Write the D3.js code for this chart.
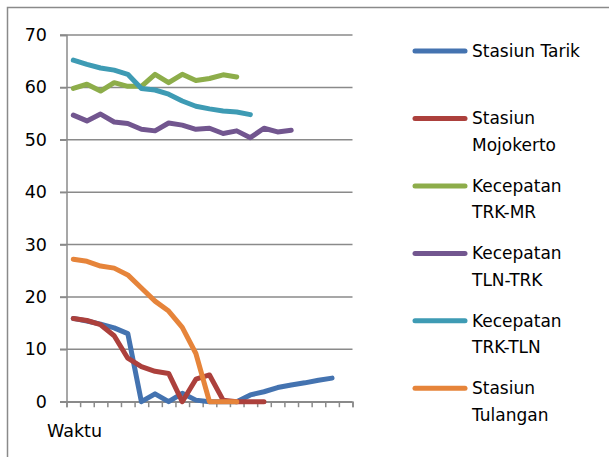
<!DOCTYPE html>
<html>
<head>
<meta charset="utf-8">
<script src="https://cdn.jsdelivr.net/npm/d3@7"></script>
<style>
  html, body { margin: 0; padding: 0; background: #fff; }
  svg { display: block; }
  text { font-family: "Comic Sans MS", "DejaVu Sans", sans-serif; fill: #000; }
</style>
</head>
<body>
<svg id="chart" width="609" height="457"></svg>
<script>
// ---- data ----
const categories = d3.range(1, 22); // 21 time steps on "Waktu"
const yTicks = [0, 10, 20, 30, 40, 50, 60, 70];
const xAxisTitle = "Waktu";

const stasiunTarik     = [15.9, 15.4, 14.8, 14.1, 13.0, 0, 1.5, 0, 1.6, 0.3, 0, 0, 0, 1.3, 1.9, 2.7, 3.2, 3.6, 4.1, 4.5];
const stasiunMojokerto = [15.9, 15.5, 14.7, 12.6, 8.3, 6.7, 5.8, 5.4, 0, 4.3, 5.1, 0.3, 0, 0, 0];
const kecTRKMR         = [59.8, 60.6, 59.3, 60.9, 60.2, 60.2, 62.5, 60.9, 62.5, 61.3, 61.7, 62.4, 62.0];
const kecTLNTRK        = [54.7, 53.6, 54.9, 53.4, 53.1, 52.0, 51.7, 53.2, 52.8, 52.0, 52.2, 51.2, 51.7, 50.4, 52.2, 51.5, 51.8];
const kecTRKTLN        = [65.2, 64.4, 63.7, 63.3, 62.5, 59.8, 59.5, 58.7, 57.4, 56.4, 55.9, 55.5, 55.3, 54.8];
const stasiunTulangan  = [27.2, 26.8, 25.9, 25.5, 24.2, 21.7, 19.2, 17.3, 14.2, 9.2, 0, 0, 0];

const seriesNames  = ["Stasiun Tarik", "Stasiun Mojokerto", "Kecepatan TRK-MR", "Kecepatan TLN-TRK", "Kecepatan TRK-TLN", "Stasiun Tulangan"];
const legendLines  = [["Stasiun Tarik"], ["Stasiun", "Mojokerto"], ["Kecepatan", "TRK-MR"], ["Kecepatan", "TLN-TRK"], ["Kecepatan", "TRK-TLN"], ["Stasiun", "Tulangan"]];
const seriesValues = [stasiunTarik, stasiunMojokerto, kecTRKMR, kecTLNTRK, kecTRKTLN, stasiunTulangan];
const seriesColors = ["#4473B0", "#AC403C", "#8DAD4A", "#72568F", "#3E9BB4", "#E6843A"];
// draw order (back to front)
const drawOrder = [0, 1, 2, 3, 4, 5];

// ---- layout ----
const svg = d3.select("#chart");
const plotLeft = 66.5, plotRight = 352.5, plotTop = 35, plotBottom = 401.7;
const gridColor = "#8a8a8a";

// chart area frame
svg.append("rect")
  .attr("x", 7.5).attr("y", 7.5)
  .attr("width", 640).attr("height", 480)
  .attr("fill", "none").attr("stroke", gridColor).attr("stroke-width", 1.5);

const xEdge = d3.scaleLinear().domain([0, categories.length]).range([plotLeft, plotRight]);
const x = i => xEdge(i + 0.5);
const y = d3.scaleLinear().domain([0, 70]).range([plotBottom, plotTop]);

// gridlines
svg.append("g")
  .selectAll("line")
  .data(yTicks)
  .join("line")
  .attr("x1", 60).attr("x2", plotRight)
  .attr("y1", d => y(d)).attr("y2", d => y(d))
  .attr("stroke", gridColor).attr("stroke-width", 1.5);

// y axis
const yAxis = svg.append("g")
  .attr("transform", `translate(${plotLeft},0)`)
  .call(d3.axisLeft(y).tickValues(yTicks).tickSize(6.5).tickPadding(13));
yAxis.select(".domain").attr("stroke", gridColor).attr("stroke-width", 1.5);
yAxis.selectAll(".tick line").attr("stroke", gridColor).attr("stroke-width", 1.5);
yAxis.selectAll("text").style("font-size", "17.5px").attr("fill", "#000")
  .style("font-family", '"Comic Sans MS", "DejaVu Sans", sans-serif');

// x axis (category boundaries)
const xAxis = svg.append("g")
  .attr("transform", `translate(0,${plotBottom})`)
  .call(d3.axisBottom(xEdge).tickValues(d3.range(0, categories.length + 1)).tickSize(5.5).tickFormat(""));
xAxis.select(".domain").attr("stroke", gridColor).attr("stroke-width", 1.5);
xAxis.selectAll(".tick line").attr("stroke", gridColor).attr("stroke-width", 1.5);

svg.append("text")
  .attr("x", 47).attr("y", 437)
  .style("font-size", "17.5px")
  .text(xAxisTitle);

// series lines
const line = d3.line()
  .x((d, i) => x(i))
  .y(d => y(d));

svg.append("g")
  .selectAll("path")
  .data(drawOrder)
  .join("path")
  .attr("d", k => line(seriesValues[k]))
  .attr("fill", "none")
  .attr("stroke", k => seriesColors[k])
  .attr("stroke-width", 5)
  .attr("stroke-linejoin", "round")
  .attr("stroke-linecap", "round");

// legend
const legendY = d3.scaleLinear().domain([0, 5]).range([51, 388.3]);
const leg = svg.append("g")
  .selectAll("g")
  .data(seriesNames)
  .join("g")
  .attr("transform", (d, i) => `translate(0,${legendY(i)})`);

leg.append("line")
  .attr("x1", 415).attr("x2", 465)
  .attr("y1", 0).attr("y2", 0)
  .attr("stroke", (d, i) => seriesColors[i])
  .attr("stroke-width", 5)
  .attr("stroke-linecap", "round");

leg.append("text")
  .attr("x", 472)
  .attr("y", 6)
  .style("font-size", "17px")
  .selectAll("tspan")
  .data((d, i) => legendLines[i])
  .join("tspan")
  .attr("x", 472)
  .attr("dy", (d, j) => j === 0 ? 0 : 26.5)
  .text(d => d);
</script>
</body>
</html>
